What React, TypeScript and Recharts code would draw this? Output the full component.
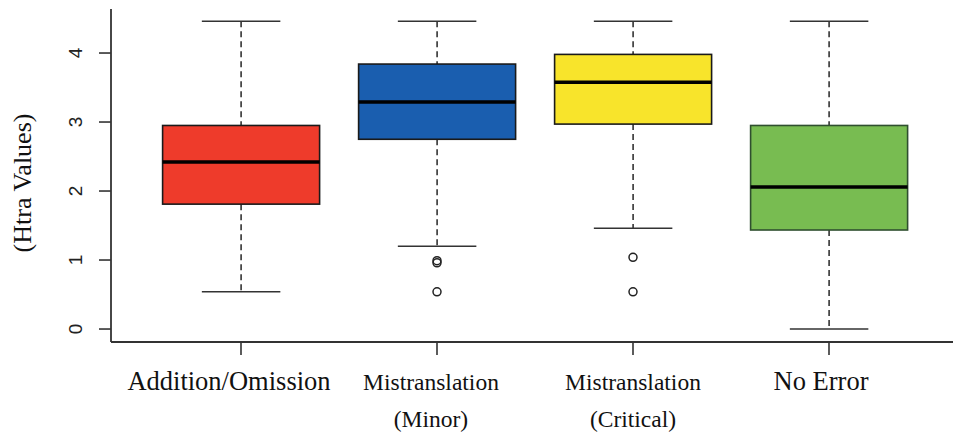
import React from 'react';
import { ComposedChart, Bar, Line, XAxis, YAxis } from 'recharts';

const categories = ['Addition/Omission', 'Mistranslation (Minor)', 'Mistranslation (Critical)', 'No Error'];
const tickLines = [['Addition/Omission'], ['Mistranslation', '(Minor)'], ['Mistranslation', '(Critical)'], ['No Error']];
const whiskerLow = [0.54, 1.2, 1.46, 0.0];
const q1 = [1.81, 2.75, 2.97, 1.435];
const median = [2.42, 3.29, 3.575, 2.06];
const q3 = [2.95, 3.84, 3.98, 2.95];
const whiskerHigh = [4.46, 4.46, 4.46, 4.46];
const outlierA = [null, 0.96, 1.04, null];
const outlierB = [null, 0.99, null, null];
const outlierC = [null, 0.54, 0.54, null];
const yTicks = [0, 1, 2, 3, 4];

const fills = ['#EE3B2B', '#1A5EAF', '#F8E42B', '#78BC51'];
const borders = ['#1a1a1a', '#1a1a1a', '#1a1a1a', '#2f4f2f'];
const labelDx = [-12, -6, 0, -8];

const data = categories.map((name, i) => ({
  name,
  low: whiskerLow[i],
  q1: q1[i],
  median: median[i],
  q3: q3[i],
  high: whiskerHigh[i],
  oA: outlierA[i],
  oB: outlierB[i],
  oC: outlierC[i],
}));

const BoxShape = (props: any) => {
  const { x, y, width, height, payload } = props;
  const i = categories.indexOf(payload.name);
  const lo = payload.low;
  const hi = payload.high;
  const py = (v: number) => y + ((hi - v) / (hi - lo)) * height;
  const cx = x + width / 2;
  const cap = width / 4;
  const wc = '#333';
  return (
    <g>
      <line x1={cx} x2={cx} y1={py(hi)} y2={py(payload.q3)} stroke={wc} strokeWidth={1.6} strokeDasharray="6 4" />
      <line x1={cx} x2={cx} y1={py(payload.q1)} y2={py(lo)} stroke={wc} strokeWidth={1.6} strokeDasharray="6 4" />
      <line x1={cx - cap} x2={cx + cap} y1={py(hi)} y2={py(hi)} stroke={wc} strokeWidth={1.6} />
      <line x1={cx - cap} x2={cx + cap} y1={py(lo)} y2={py(lo)} stroke={wc} strokeWidth={1.6} />
      <rect
        x={x}
        y={py(payload.q3)}
        width={width}
        height={py(payload.q1) - py(payload.q3)}
        fill={fills[i]}
        stroke={borders[i]}
        strokeWidth={1.6}
      />
      <line x1={x} x2={x + width} y1={py(payload.median)} y2={py(payload.median)} stroke="#000" strokeWidth={3.5} />
    </g>
  );
};

const XTick = (props: any) => {
  const { x, y, payload } = props;
  const i = categories.indexOf(payload.value);
  const lines = tickLines[i] || [String(payload.value)];
  const fs = lines.length > 1 ? 23.5 : 26.5;
  return (
    <g>
      {lines.map((t, k) => (
        <text
          key={k}
          x={x + labelDx[i]}
          y={y + 33 + k * 37}
          textAnchor="middle"
          fontFamily="'Liberation Serif', 'Times New Roman', serif"
          fontSize={fs}
          fill="#111"
        >
          {t}
        </text>
      ))}
    </g>
  );
};

const YTick = (props: any) => {
  const { x, y, payload } = props;
  const tx = x - 21.5;
  return (
    <text
      x={tx}
      y={y}
      transform={`rotate(-90, ${tx}, ${y})`}
      textAnchor="middle"
      dominantBaseline="central"
      fontFamily="'Liberation Sans', Arial, sans-serif"
      fontSize={19}
      fill="#222"
    >
      {payload.value}
    </text>
  );
};

const YLabel = () => (
  <text
    x={22}
    y={183}
    transform="rotate(-90, 22, 183)"
    textAnchor="middle"
    dominantBaseline="central"
    fontFamily="'Liberation Serif', 'Times New Roman', serif"
    fontSize={26}
    fill="#111"
  >
    (Htra Values)
  </text>
);

const dotStyle = { r: 4, stroke: '#222', strokeWidth: 1.5, fill: 'none' };

export default function App() {
  return (
    <div style={{ position: 'fixed', left: 0, top: 0, width: 953, height: 438, overflow: 'hidden', background: '#fff' }}>
      <ComposedChart
        width={960}
        height={438}
        data={data}
        margin={{ top: 9, right: 1, bottom: 0, left: 0 }}
        barCategoryGap="10%"
      >
        <XAxis
          dataKey="name"
          type="category"
          height={96}
          padding={{ left: 32, right: 32 }}
          tick={<XTick />}
          tickSize={13}
          tickLine={{ stroke: '#333', strokeWidth: 1.6 }}
          axisLine={{ stroke: '#333', strokeWidth: 1.8 }}
          interval={0}
        />
        <XAxis
          xAxisId="top"
          orientation="top"
          dataKey="name"
          height={0}
          tick={false}
          tickLine={false}
          axisLine={{ stroke: '#333', strokeWidth: 1.8 }}
        />
        <YAxis
          type="number"
          domain={[-0.188, 4.638]}
          ticks={yTicks}
          allowDataOverflow
          width={111}
          tickSize={12}
          tick={<YTick />}
          tickLine={{ stroke: '#333', strokeWidth: 1.6 }}
          axisLine={{ stroke: '#333', strokeWidth: 1.8 }}
          label={<YLabel />}
        />
        <Bar dataKey={(d: any) => [d.low, d.high]} shape={<BoxShape />} isAnimationActive={false} />
        <Line dataKey="oA" stroke="none" dot={dotStyle} activeDot={false} isAnimationActive={false} />
        <Line dataKey="oB" stroke="none" dot={dotStyle} activeDot={false} isAnimationActive={false} />
        <Line dataKey="oC" stroke="none" dot={dotStyle} activeDot={false} isAnimationActive={false} />
      </ComposedChart>
    </div>
  );
}
